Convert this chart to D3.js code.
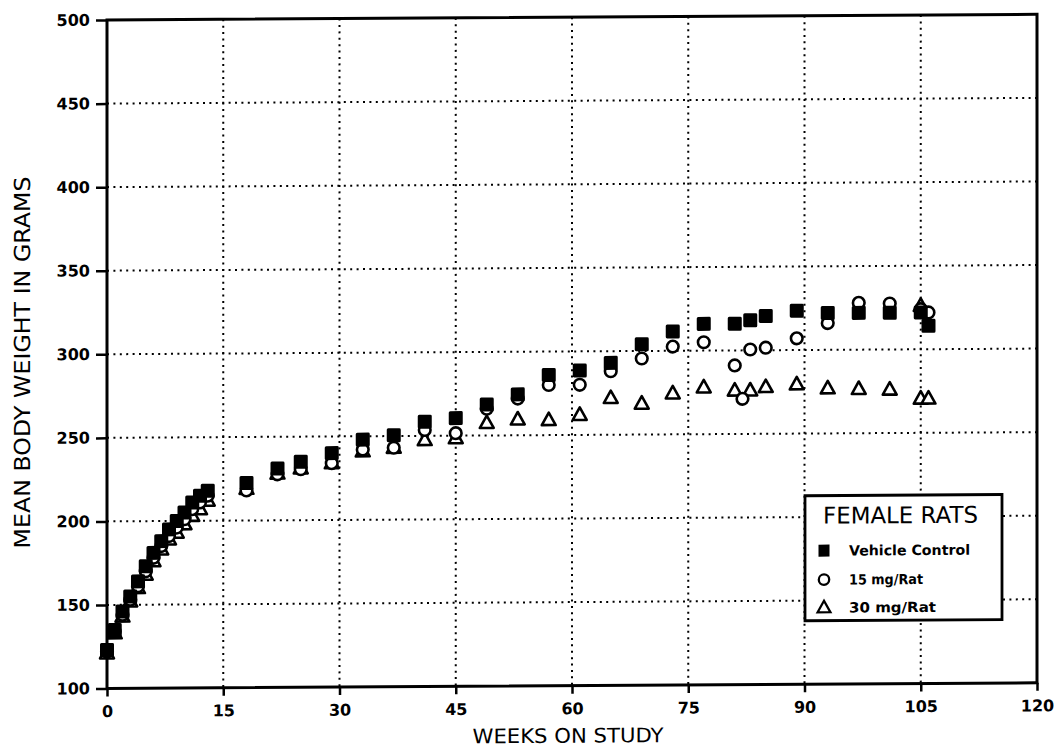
<!DOCTYPE html>
<html><head><meta charset="utf-8">
<script src="https://cdn.jsdelivr.net/npm/d3@7"></script>
<style>body{margin:0;background:#fff}</style>
</head><body>
<svg id="chart" width="1055" height="748"></svg>
<script>
// ---- data ----
const xTicks = [0, 15, 30, 45, 60, 75, 90, 105, 120];
const yTicks = [100, 150, 200, 250, 300, 350, 400, 450, 500];

const vehicleWeeks = [0,1,2,3,4,5,6,7,8,9,10,11,12,13,18,22,25,29,33,37,41,45,49,53,57,61,65,69,73,77,81,83,85,89,93,97,101,105,106];
const vehicleValues = [123,135,146,155,164,173,181,188,195,200,205,211,215,218,222.5,231,235,240,248,250.5,258.5,260.5,268.5,274.5,286,288.5,293,304,311.5,316,316,318,320.5,323.5,322,322,322,322,314];

const mg15Weeks = [0,1,2,3,4,5,6,7,8,9,10,11,12,13,18,22,25,29,33,37,41,45,49,53,57,61,65,69,73,77,81,82,83,85,89,93,97,101,105,106];
const mg15Values = [122,134,144,153,161,170,178,185,191,196,201,207,211,215,218,227.5,230.5,234,242,243,253.5,251.5,266,272,280,280,288,295.5,302.5,305,291,271,300.5,301.5,307,316,328,327.5,324,322];

const mg30Weeks = [0,1,2,3,4,5,6,7,8,9,10,11,12,13,18,22,25,29,33,37,41,45,49,53,57,61,65,69,73,77,81,83,85,89,93,97,101,105,105,106];
const mg30Values = [121,133,143,152,160,168,176,183,189,193,198,203,207,212,219,228,231,234,241,243,247.5,248.5,257.5,259.5,259,262,272,268.5,274.5,278,276,276,278,279.5,277,276.5,276,326,270.5,270.5];

const legendTitle = "FEMALE RATS";
const seriesNames = ["Vehicle Control", "15 mg/Rat", "30 mg/Rat"];
const xTitle = "WEEKS ON STUDY";
const yTitle = "MEAN BODY WEIGHT IN GRAMS";

// ---- layout ----
const svg = d3.select("#chart");
svg.append("rect").attr("width",1055).attr("height",748).attr("fill","#fff");
const L = 107, R = 1037, T = 20, B = 688.5;
const x = d3.scaleLinear().domain([0,120]).range([L,R]);
const y = d3.scaleLinear().domain([100,500]).range([B,T]);

const g = svg.append("g").attr("transform", `translate(${L},0) skewY(-0.35) translate(${-L},0)`);

// gridlines
const grid = g.append("g").attr("stroke","#000").attr("stroke-width",2).attr("stroke-dasharray","2 4.4").attr("fill","none");
xTicks.filter(t => t > 0 && t < 120).forEach(t => {
  grid.append("line").attr("x1",x(t)).attr("x2",x(t)).attr("y1",T).attr("y2",B);
});
yTicks.filter(t => t > 100 && t < 500).forEach(t => {
  grid.append("line").attr("x1",L).attr("x2",R).attr("y1",y(t)).attr("y2",y(t));
});

// axes via d3
const xAxis = d3.axisBottom(x).tickValues(xTicks).tickSize(8).tickPadding(9).tickFormat(d3.format("d"));
const yAxis = d3.axisLeft(y).tickValues(yTicks).tickSize(11).tickPadding(6).tickFormat(d3.format("d"));
const xa = g.append("g").attr("transform",`translate(0,${B})`).call(xAxis);
const ya = g.append("g").attr("transform",`translate(${L},0)`).call(yAxis);
[xa, ya].forEach(a => {
  a.select(".domain").remove();
  a.selectAll(".tick line").attr("stroke","#000").attr("stroke-width",2.5);
  a.selectAll(".tick text").attr("fill","#000")
    .style("font-family","'DejaVu Sans', sans-serif").style("font-weight","bold").style("font-size","16px");
});
xa.selectAll(".tick text").attr("dy","0.72em");

// frame
g.append("rect").attr("x",L).attr("y",T).attr("width",R-L).attr("height",B-T)
  .attr("fill","none").attr("stroke","#000").attr("stroke-width",3);

// titles
g.append("text").attr("x",(L+R)/2 - 4).attr("y",745.5).attr("text-anchor","middle")
  .style("font-family","'DejaVu Sans', sans-serif").style("font-size","20px")
  .attr("textLength",191).attr("lengthAdjust","spacingAndGlyphs").text(xTitle);
g.append("text").attr("transform","translate(30,362) rotate(-90)").attr("text-anchor","middle")
  .style("font-family","'DejaVu Sans', sans-serif").style("font-size","22px")
  .attr("textLength",372).attr("lengthAdjust","spacingAndGlyphs").text(yTitle);

// markers
const triPath = s => `M0,${-s*0.62}L${s*0.58},${s*0.42}L${-s*0.58},${s*0.42}Z`;
const mg30 = mg30Weeks.map((w,i) => ({w, v: mg30Values[i]}));
const mg15 = mg15Weeks.map((w,i) => ({w, v: mg15Values[i]}));
const veh = vehicleWeeks.map((w,i) => ({w, v: vehicleValues[i]}));

g.append("g").selectAll("path").data(mg30).join("path")
  .attr("transform", d => `translate(${x(d.w)},${y(d.v)})`)
  .attr("d", triPath(12)).attr("fill","#fff").attr("stroke","#000").attr("stroke-width",2.6).attr("stroke-linejoin","round");
g.append("g").selectAll("circle").data(mg15).join("circle")
  .attr("cx", d => x(d.w)).attr("cy", d => y(d.v)).attr("r",5.8)
  .attr("fill","#fff").attr("stroke","#000").attr("stroke-width",2.6);
g.append("g").selectAll("rect").data(veh).join("rect")
  .attr("x", d => x(d.w) - 7).attr("y", d => y(d.v) - 7).attr("width",14).attr("height",14).attr("rx",1.5)
  .attr("fill","#000");

// legend
const lg = g.append("g");
lg.append("rect").attr("x",805).attr("y",500).attr("width",197).attr("height",125)
  .attr("fill","#fff").attr("stroke","#000").attr("stroke-width",2.8);
lg.append("text").attr("x",823).attr("y",528).style("font-family","'DejaVu Sans', sans-serif").style("font-size","23px")
  .attr("textLength",155).attr("lengthAdjust","spacingAndGlyphs").text(legendTitle);
const rowsY = [555, 584, 612];
const textLens = [121, 74, 87];
lg.append("rect").attr("x",818.5).attr("y",rowsY[0]-6).attr("width",11).attr("height",12).attr("fill","#000");
lg.append("circle").attr("cx",824).attr("cy",rowsY[1]).attr("r",5.2).attr("fill","#fff").attr("stroke","#000").attr("stroke-width",2.3);
lg.append("path").attr("transform",`translate(824,${rowsY[2]})`).attr("d",triPath(11)).attr("fill","#fff").attr("stroke","#000").attr("stroke-width",2.3);
seriesNames.forEach((n,i) => {
  lg.append("text").attr("x",849).attr("y",rowsY[i]+5).style("font-family","'DejaVu Sans', sans-serif")
    .style("font-weight","bold").style("font-size","14px")
    .attr("textLength",textLens[i]).attr("lengthAdjust","spacingAndGlyphs").text(n);
});
</script>
</body></html>
